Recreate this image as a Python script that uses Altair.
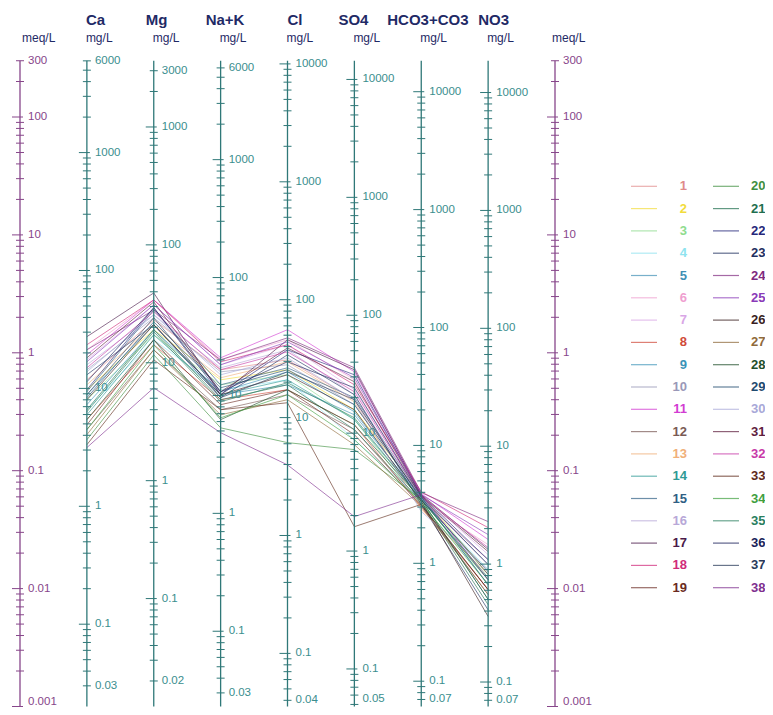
import math
import altair as alt
import pandas as pd

# ---------------- data (meq/L) ----------------
ions = ["Ca", "Mg", "Na+K", "Cl", "SO4", "HCO3+CO3", "NO3"]
sample_ids = [str(i) for i in range(1, 39)]
colors = ["#e08a8a", "#f2dc3c", "#8fdc8f", "#8fe3ef", "#3f8fb5", "#ef9fd0", "#d9a6e6",
          "#d04a3a", "#3a93b8", "#9a98b8", "#d23cd2", "#7a5a55", "#f0b07a", "#2f9a95",
          "#2f5f85", "#b8a8d8", "#4a1a4a", "#d02a7a", "#6a2a22", "#3f8f3f", "#1f6f4f",
          "#26287a", "#1f2f5f", "#7f2a7f", "#8a3ab8", "#3a1f1f", "#8f6a3a", "#1f4f2a",
          "#1f4a6f", "#a8a8d8", "#5f1f3f", "#c83aa8", "#5f2a1a", "#3f9f3f", "#2a7f5f",
          "#1a1f5a", "#2a3a5a", "#7f2f8f"]

ca = [0.590, 0.486, 0.400, 0.329, 0.441, 1.06, 0.872, 0.271, 0.363, 0.718, 0.962, 0.223, 0.535,
      0.298, 0.467, 0.791, 1.37, 1.17, 0.245, 0.183, 0.329, 0.486, 0.651, 1.06, 0.839, 0.400,
      0.202, 0.271, 0.416, 0.690, 0.907, 0.746, 0.166, 0.223, 0.316, 0.568, 0.441, 0.157]
mg = [1.90, 1.57, 1.42, 1.29, 1.73, 2.81, 2.55, 1.17, 1.57, 1.98, 2.81, 1.06, 1.73, 1.42, 2.31,
      2.10, 3.22, 2.81, 1.29, 0.962, 1.57, 2.41, 1.73, 2.31, 2.55, 1.73, 1.06, 1.29, 1.83, 2.10,
      2.70, 2.23, 0.872, 1.17, 1.51, 2.41, 1.98, 0.505]
nak = [0.718, 0.590, 0.535, 0.486, 0.441, 0.872, 0.791, 0.400, 0.467, 0.690, 0.907, 0.329, 0.614,
       0.441, 0.535, 0.746, 0.441, 0.839, 0.363, 0.231, 0.400, 0.441, 0.416, 0.872, 0.791, 0.441,
       0.298, 0.271, 0.505, 0.651, 0.467, 0.718, 0.329, 0.281, 0.384, 0.467, 0.416, 0.210]
cl = [0.872, 0.718, 0.651, 0.590, 0.535, 1.29, 1.17, 0.486, 0.690, 0.791, 1.57, 0.441, 0.839,
      0.590, 0.746, 1.06, 1.29, 1.17, 0.486, 0.173, 0.535, 1.06, 0.962, 1.34, 1.24, 0.651,
      0.400, 0.486, 0.718, 0.907, 1.10, 1.02, 0.377, 0.441, 0.557, 0.839, 0.690, 0.112]
so4 = [0.400, 0.329, 0.271, 0.183, 0.298, 0.590, 0.486, 0.245, 0.316, 0.363, 0.690, 0.223, 0.384,
       0.271, 0.416, 0.441, 0.718, 0.535, 0.202, 0.151, 0.223, 0.651, 0.441, 0.746, 0.614, 0.329,
       0.166, 0.245, 0.363, 0.400, 0.568, 0.467, 0.0335, 0.183, 0.281, 0.505, 0.400, 0.0408]
hco3 = [0.0569, 0.0626, 0.0518, 0.0569, 0.0591, 0.0548, 0.0626, 0.0489, 0.0569, 0.0591, 0.0638,
        0.0518, 0.0468, 0.0569, 0.0603, 0.0569, 0.0626, 0.0664, 0.0508, 0.0569, 0.0548, 0.0614,
        0.0518, 0.0651, 0.0626, 0.0548, 0.0498, 0.0569, 0.0591, 0.0450, 0.0614, 0.0603, 0.0518,
        0.0538, 0.0569, 0.0603, 0.0569, 0.0626]
no3 = [0.0176, 0.0132, 0.0119, 0.0145, 0.0108, 0.0236, 0.0194, 0.0098, 0.0119, 0.0160, 0.0261,
       0.0089, 0.0132, 0.0081, 0.0108, 0.0176, 0.0215, 0.0329, 0.0098, 0.0119, 0.0073, 0.0176,
       0.0066, 0.0370, 0.0287, 0.0058, 0.0089, 0.0081, 0.0132, 0.0145, 0.0206, 0.0223, 0.0098,
       0.0108, 0.0124, 0.0160, 0.0139, 0.0119]
series = [ca, mg, nak, cl, so4, hco3, no3]

# equivalent weights (mg per meq) used for the mg/L scales
eq_weights = [20.04, 12.15, 23.0, 35.45, 48.03, 61.02, 62.0]

meq_tick_labels = ["300", "100", "10", "1", "0.1", "0.01", "0.001"]
mg_tick_labels = [
    ["6000", "1000", "100", "10", "1", "0.1", "0.03"],
    ["3000", "1000", "100", "10", "1", "0.1", "0.02"],
    ["6000", "1000", "100", "10", "1", "0.1", "0.03"],
    ["10000", "1000", "100", "10", "1", "0.1", "0.04"],
    ["10000", "1000", "100", "10", "1", "0.1", "0.05"],
    ["10000", "1000", "100", "10", "1", "0.1", "0.07"],
    ["10000", "1000", "100", "10", "1", "0.1", "0.07"],
]

# ---------------- layout ----------------
W, H = 757, 699
PX_IDX = 66.875          # pixels between two vertical axes
X0 = 12.0                # pixel position of the left meq/L axis
XMIN = -X0 / PX_IDX
XMAX = (W - X0) / PX_IDX
Y1 = 344.8               # pixel of 1 meq/L
PX_DEC = 117.9           # pixels per decade
YMAX = 10 ** (Y1 / PX_DEC)
YMIN = 10 ** ((Y1 - H) / PX_DEC)
MEQ_TOP, MEQ_BOT = 300.0, 0.001

PURPLE = "#87468a"
TEAL_LINE = "#2f7878"
TEAL_TEXT = "#3a8e8e"
NAVY = "#1f2a66"
FONT = "Liberation Sans"

xs = alt.Scale(domain=[XMIN, XMAX], nice=False, zero=False)
ys = alt.Scale(type="log", domain=[YMIN, YMAX], nice=False)


def px(dx):
    return dx / PX_IDX


# axis lines
axis_rows = []
for i in range(9):
    axis_rows.append({"idx": i, "top": MEQ_TOP, "bot": MEQ_BOT,
                      "col": PURPLE if i in (0, 8) else TEAL_LINE})
axis_df = pd.DataFrame(axis_rows)

# ticks
tick_rows = []
for i in range(9):
    if i in (0, 8):
        w, col = 1.0, PURPLE
    else:
        w, col = eq_weights[i - 1], TEAL_LINE
    lo, hi = MEQ_BOT * w, MEQ_TOP * w
    for n in range(-4, 6):
        for k in range(1, 10):
            v = k * 10 ** n
            if lo * 0.9999 <= v <= hi * 1.0001:
                tick_rows.append({"idx": i, "meq": v / w, "major": k == 1, "col": col})
tick_df = pd.DataFrame(tick_rows)

# tick labels (the lowest ones are lifted a little so they stay inside the picture)
lab_rows = []
for i in range(9):
    if i in (0, 8):
        for t in meq_tick_labels:
            lab_rows.append({"idx": i, "meq": float(t), "text": t, "col": PURPLE})
    else:
        for t in mg_tick_labels[i - 1]:
            lab_rows.append({"idx": i, "meq": float(t) / eq_weights[i - 1], "text": t,
                             "col": TEAL_TEXT})
lab_df = pd.DataFrame(lab_rows)
lab_df["low"] = lab_df["meq"] < 0.00108

# data lines
line_rows = []
for k, sid in enumerate(sample_ids):
    for j, arr in enumerate(series):
        line_rows.append({"sample": sid, "idx": j + 1, "meq": arr[k], "col": colors[k]})
line_df = pd.DataFrame(line_rows)

# headers
title_dx = [-1, -8, -15, 0, -16, -34, -10]
head_df = pd.DataFrame({"x": [i + 1 + px(d) for i, d in enumerate(title_dx)], "text": ions})
unit_df = pd.DataFrame({"x": [px(2)] + [i + 1 + px(-1) for i in range(7)] + [8 + px(-3)],
                        "text": ["meq/L"] + ["mg/L"] * 7 + ["meq/L"]})

# legend
leg_rows = []
for k, sid in enumerate(sample_ids):
    c = 0 if k < 19 else 1
    r = k if k < 19 else k - 19
    leg_rows.append({"sample": sid, "col": colors[k], "c": c, "row": r})
leg_df = pd.DataFrame(leg_rows)
ROW0, ROWH = 178.3, 22.3
ly = alt.Scale(domain=[-ROW0 / ROWH, (H - ROW0) / ROWH], reverse=True, nice=False, zero=False)
LX = {0: (px(623 - X0), px(649 - X0), px(679 - X0)), 1: (px(705 - X0), px(731 - X0), px(743 - X0))}
leg_df["x1"] = [LX[c][0] for c in leg_df["c"]]
leg_df["x2"] = [LX[c][1] for c in leg_df["c"]]
leg_df["tx"] = [LX[c][2] for c in leg_df["c"]]

X = lambda f: alt.X(f, scale=xs, axis=None)
Y = lambda f: alt.Y(f, scale=ys, axis=None)
C = alt.Color("col:N", scale=None)

axes = alt.Chart(axis_df).mark_rule(strokeWidth=1.3).encode(
    x=X("idx:Q"), y=Y("top:Q"), y2="bot:Q", color=C)

ticks_major = alt.Chart(tick_df).transform_filter("datum.major").mark_rule(
    strokeWidth=1, xOffset=-8, x2Offset=3).encode(x=X("idx:Q"), x2="idx:Q", y=Y("meq:Q"), color=C)
ticks_minor = alt.Chart(tick_df).transform_filter("!datum.major").mark_rule(
    strokeWidth=1, xOffset=-4, x2Offset=4).encode(x=X("idx:Q"), x2="idx:Q", y=Y("meq:Q"), color=C)

labels = alt.Chart(lab_df).transform_filter("!datum.low").mark_text(
    align="left", baseline="middle", dx=8, fontSize=11.5, font=FONT).encode(
    x=X("idx:Q"), y=Y("meq:Q"), text="text:N", color=C)
labels_low = alt.Chart(lab_df).transform_filter("datum.low").mark_text(
    align="left", baseline="bottom", dx=8, dy=0, fontSize=11.5, font=FONT).encode(
    x=X("idx:Q"), y=Y("meq:Q"), text="text:N", color=C)

lines = alt.Chart(line_df).mark_line(strokeWidth=1, opacity=0.62).encode(
    x=X("idx:Q"), y=Y("meq:Q"), detail="sample:N", color=C, order="idx:Q")

heads = alt.Chart(head_df).mark_text(
    align="left", baseline="middle", fontSize=15, fontWeight="bold", font=FONT, color=NAVY).encode(
    x=X("x:Q"), y=alt.value(11.6), text="text:N")
units = alt.Chart(unit_df).mark_text(
    align="left", baseline="middle", fontSize=12, font=FONT, color=NAVY).encode(
    x=X("x:Q"), y=alt.value(29.5), text="text:N")

leg_lines = alt.Chart(leg_df).mark_rule(strokeWidth=1.2, opacity=0.7).encode(
    x=X("x1:Q"), x2="x2:Q", y=alt.Y("row:Q", scale=ly, axis=None), color=C)
leg_text_l = alt.Chart(leg_df).transform_filter("datum.c == 0").mark_text(
    align="right", baseline="middle", fontSize=13, fontWeight="bold", font=FONT).encode(
    x=X("tx:Q"), y=alt.Y("row:Q", scale=ly, axis=None), text="sample:N", color=C)
leg_text_r = alt.Chart(leg_df).transform_filter("datum.c == 1").mark_text(
    align="left", baseline="middle", fontSize=13, fontWeight="bold", font=FONT).encode(
    x=X("tx:Q"), y=alt.Y("row:Q", scale=ly, axis=None), text="sample:N", color=C)

chart = alt.layer(
    lines, axes, ticks_major, ticks_minor, labels, labels_low, heads, units,
    leg_lines, leg_text_l, leg_text_r
).resolve_scale(y="independent").properties(
    width=W, height=H, autosize=alt.AutoSizeParams(type="none"), padding=0,
    background="white"
).configure_view(stroke=None)

chart.save("out.html", embed_options={"renderer": "svg", "actions": False})
